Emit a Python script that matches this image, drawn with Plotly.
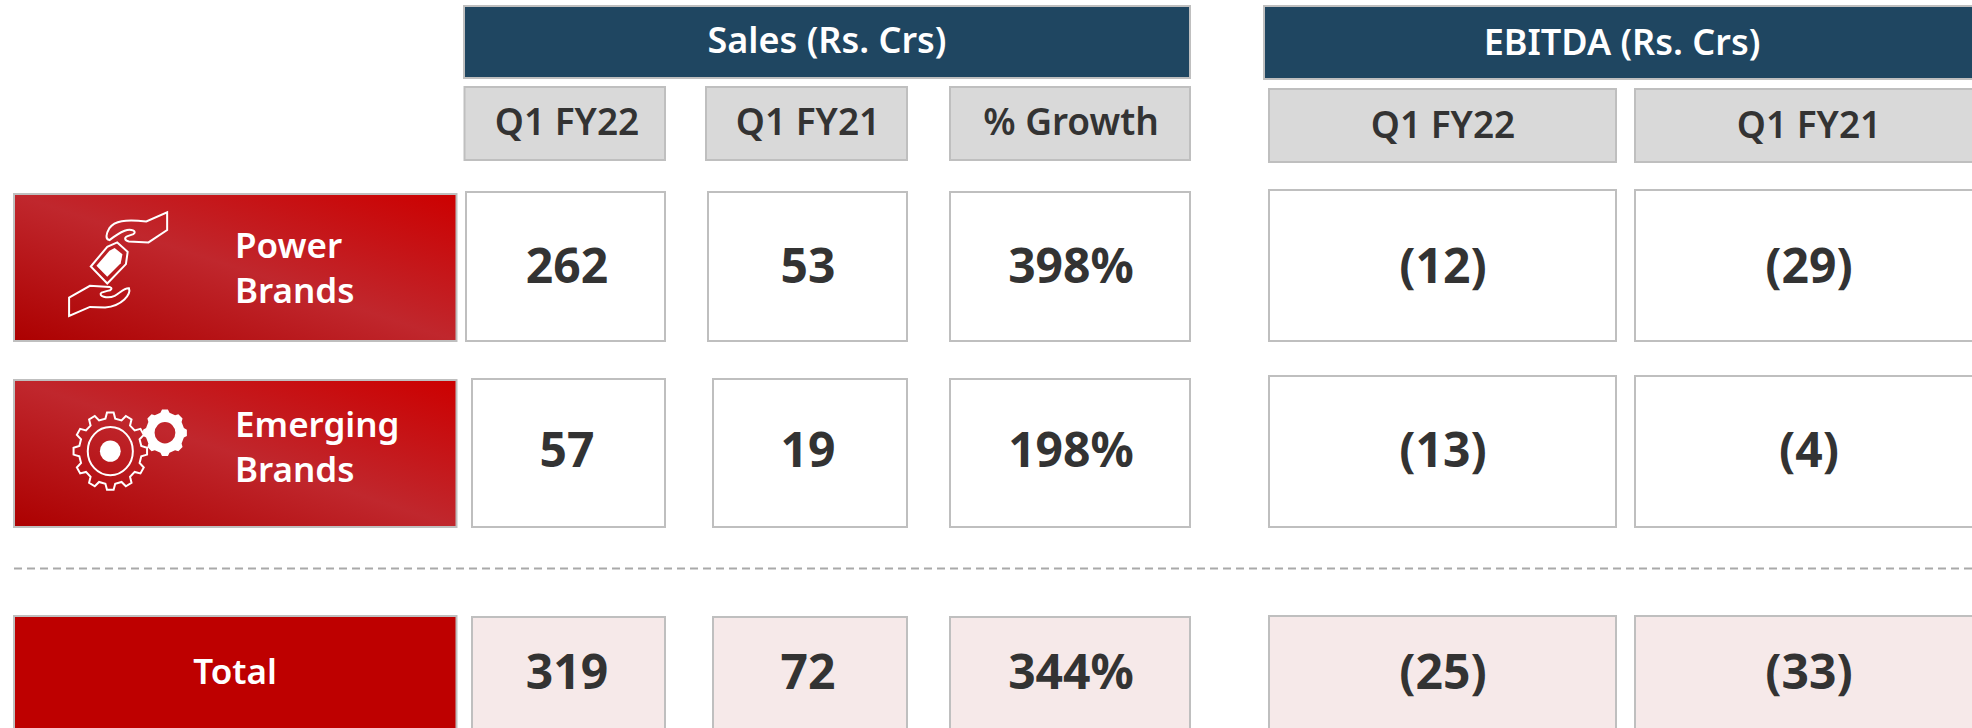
import base64, math
import plotly.graph_objects as go

# ---------- content ----------
group_titles = ["Sales (Rs. Crs)", "EBITDA (Rs. Crs)"]
column_titles = ["Q1 FY22", "Q1 FY21", "% Growth", "Q1 FY22", "Q1 FY21"]
power_values = ["262", "53", "398%", "(12)", "(29)"]
emerging_values = ["57", "19", "198%", "(13)", "(4)"]
total_values = ["319", "72", "344%", "(25)", "(33)"]

# ---------- layout (pixel grid of the slide) ----------
W, H = 1972, 728
FONT = "Noto Sans"
NAVY, BORDER, GREY, PINK, RED, INK = "#1F4661", "#BFBFBF", "#D9D9D9", "#F6E9E9", "#BE0000", "#333333"

col_x_header = [(464.5, 665), (706, 907), (950, 1190), (1269, 1616), (1635, 1985)]
col_x_row1 = [(466, 665), (708, 907), (950, 1190), (1269, 1616), (1635, 1985)]
col_x_row2 = [(472, 665), (713, 907), (950, 1190), (1269, 1616), (1635, 1985)]
col_text_x = [567, 808, 1071, 1443, 1809]
sub_y = [(87, 160)] * 3 + [(89, 162)] * 2
row1_y = [(192, 341), (192, 341), (192, 341), (190, 341), (190, 341)]
row2_y = [(379, 527), (379, 527), (379, 527), (376, 527), (376, 527)]
total_y = [(617, 745), (617, 745), (617, 745), (616, 745), (616, 745)]


def rect(x0, x1, y0, y1, fill, line=BORDER):
    return dict(type="rect", xref="x", yref="y", x0=x0, x1=x1, y0=y0, y1=y1,
                fillcolor=fill, line=dict(color=line, width=2), layer="below")


shapes = [rect(464, 1190, 6, 78, NAVY), rect(1264, 1985, 6, 79, NAVY)]
for i in range(5):
    shapes.append(rect(*col_x_header[i], *sub_y[i], GREY))
    shapes.append(rect(*col_x_row1[i], *row1_y[i], "white"))
    shapes.append(rect(*col_x_row2[i], *row2_y[i], "white"))
    shapes.append(rect(*col_x_row2[i], *total_y[i], PINK))
shapes.append(rect(14, 456.5, 616, 745, RED))
shapes.append(dict(type="line", xref="x", yref="y", x0=14, x1=W, y0=568.5, y1=568.5,
                   line=dict(color="#A9A9A9", width=2, dash="8px 5px")))
shapes.append(rect(14, 456.5, 194, 341, "rgba(0,0,0,0)"))
shapes.append(rect(14, 456.5, 380, 527, "rgba(0,0,0,0)"))
for s in shapes[-2:]:
    s["layer"] = "above"


# ---------- label-box artwork (gradient + icons) ----------
def gear(cx, cy, rx, ry, teeth, inner=0.82):
    pts = []
    for k in range(teeth):
        a = 2 * math.pi * k / teeth - math.pi / 2
        step = 2 * math.pi / teeth
        for off, r in ((-0.30, inner), (-0.17, 1), (0.17, 1), (0.30, inner)):
            t = a + off * step
            pts.append(f"{cx + rx * r * math.cos(t):.1f} {cy + ry * r * math.sin(t):.1f}")
    return "M" + " L".join(pts) + " Z"


def ellipse(cx, cy, rx, ry):
    return f"M{cx - rx} {cy} a{rx} {ry} 0 1 0 {2 * rx} 0 a{rx} {ry} 0 1 0 {-2 * rx} 0 Z"


def art(vb_y, body):
    svg = (f'<svg xmlns="http://www.w3.org/2000/svg" width="442" height="147" '
           f'viewBox="30 {vb_y} 1020 440" preserveAspectRatio="none">'
           '<defs><linearGradient id="g" x1="0" y1="1" x2="1" y2="0">'
           '<stop offset="0" stop-color="#AC0000"/><stop offset="0.5" stop-color="#C0272D"/>'
           '<stop offset="1" stop-color="#CC0000"/></linearGradient></defs>'
           f'<rect x="30" y="{vb_y}" width="1020" height="440" fill="url(#g)"/>{body}</svg>')
    return "data:image/svg+xml;base64," + base64.b64encode(svg.encode()).decode()


STROKE = 'fill="none" stroke="white" stroke-width="2" vector-effect="non-scaling-stroke"'
power_icon = (
    f'<path {STROKE} d="M383 125 L383 178 L340 215 L295 212 C285 210 283 200 292 196 L305 190 '
    'C315 182 300 172 285 180 C270 188 258 200 250 208 C240 205 242 190 250 172 C262 150 285 146 335 152 Z"/>'
    f'<path {STROKE} d="M268 215 L292 243 L288 280 L245 338 L207 287 L245 228 Z"/>'
    '<path fill="white" d="M262 232 L280 250 L276 277 L245 318 L220 285 L250 240 Z"/>'
    f'<path {STROKE} d="M157 380 L205 345 L250 348 C258 352 255 358 245 360 L232 365 '
    'C222 375 245 385 262 375 C275 365 285 350 295 352 C300 370 280 405 240 410 L205 408 L157 435 Z"/>'
)
emerging_icon = (
    f'<path {STROKE} d="{gear(252, 843, 85, 116, 12, 0.85)}"/>'
    f'<path {STROKE} d="{ellipse(252, 843, 52, 72)}"/>'
    f'<path fill="white" d="{ellipse(252, 843, 24, 32)}"/>'
    f'<path fill="white" fill-rule="evenodd" d="{gear(378, 788, 51, 70, 8, 0.88)} {ellipse(378, 788, 24, 32)}"/>'
)

images = [
    dict(source=art(70, power_icon), xref="x", yref="y", x=14, y=194, sizex=442.5, sizey=147,
         sizing="stretch", layer="below", xanchor="left", yanchor="top"),
    dict(source=art(630, emerging_icon), xref="x", yref="y", x=14, y=380, sizex=442.5, sizey=147,
         sizing="stretch", layer="below", xanchor="left", yanchor="top"),
]

fig = go.Figure()


def texts(x, y, labels, size, color=INK, weight=700, pos="middle center"):
    fig.add_trace(go.Scatter(x=x, y=y, text=labels, mode="text", textposition=pos,
                             textfont=dict(family=FONT, size=size, color=color, weight=weight),
                             hoverinfo="skip", showlegend=False, cliponaxis=False))


texts([827, 1622], [44, 46], group_titles, 36, "white", 600)
texts(col_text_x, [126, 126, 126, 128.5, 128.5], column_titles, 37, INK, 600)
texts(col_text_x, [271] * 5, power_values, 48)
texts(col_text_x, [455] * 5, emerging_values, 48)
texts(col_text_x, [677] * 5, total_values, 48)
texts([235, 235], [249, 294], ["Power", "Brands"], 35, "white", 600, "middle right")
texts([235, 235], [428, 473], ["Emerging", "Brands"], 35, "white", 600, "middle right")
texts([235], [675], ["Total"], 35, "white", 600)

fig.update_layout(
    width=W, height=H, margin=dict(l=0, r=0, t=0, b=0),
    paper_bgcolor="white", plot_bgcolor="white", showlegend=False,
    xaxis=dict(range=[0, W], visible=False, fixedrange=True),
    yaxis=dict(range=[H, 0], visible=False, fixedrange=True),
    shapes=shapes, images=images,
)
fig.write_html("out.html", config={"displayModeBar": False},
               post_script="document.body.style.margin='0';")
